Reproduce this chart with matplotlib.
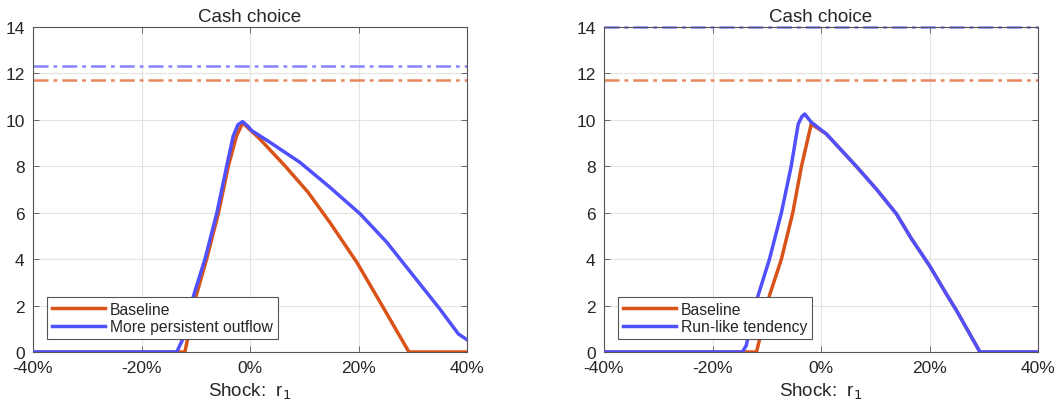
import numpy as np
import matplotlib
matplotlib.use("Agg")
import matplotlib.pyplot as plt
from matplotlib.ticker import FuncFormatter

plt.rcParams["font.family"] = ["Liberation Sans", "DejaVu Sans"]
plt.rcParams["axes.unicode_minus"] = False

# ---------------------------------------------------------------
# data (shock in %, cash choice)

# left panel: baseline
left_base_x = [-40, -12.0, -11.3, -10.1, -8.0, -5.8, -4.0, -2.5, -1.35, 1.8, 6.4, 10.7, 14.7, 19.7, 24.0, 29.3, 40]
left_base_y = [0, 0, 0.8, 2.28, 4.0, 6.0, 8.0, 9.3, 9.87, 9.18, 8.03, 6.88, 5.59, 3.86, 2.14, 0, 0]
# left panel: more persistent outflow
left_alt_x = [-40, -13.5, -12.5, -10.4, -8.3, -6.1, -4.3, -3.1, -2.2, -1.35, -0.5, 0.3, 3.7, 9.2, 14.75, 20.3, 25.2, 30.1, 35.0, 38.4, 40]
left_alt_y = [0, 0, 0.5, 2.43, 4.0, 6.0, 8.0, 9.3, 9.8, 9.92, 9.75, 9.54, 9.03, 8.17, 7.09, 5.95, 4.73, 3.29, 1.85, 0.78, 0.53]

# right panel: baseline (same as left up to the join with the blue curve)
right_base_x = [-40, -11.9, -11.6, -9.5, -7.3, -5.2, -3.6, -1.8, 1.0, 6.5, 10.2, 13.9, 16.7, 20.0, 23.1, 25.0, 29.3, 40]
right_base_y = [0, 0, 0.27, 2.43, 4.0, 6.0, 8.0, 9.82, 9.39, 8.0, 7.02, 5.95, 4.87, 3.72, 2.5, 1.78, 0, 0]
# right panel: run-like tendency
right_alt_x = [-40, -14.5, -13.8, -11.6, -9.5, -7.3, -5.5, -4.2, -3.5, -3.0, -1.8, 1.0, 6.5, 10.2, 13.9, 16.7, 20.0, 23.1, 25.0, 29.3, 40]
right_alt_y = [0, 0, 0.27, 2.43, 4.0, 6.0, 8.0, 9.82, 10.15, 10.25, 9.9, 9.39, 8.0, 7.02, 5.95, 4.87, 3.72, 2.5, 1.78, 0, 0]

# horizontal reference levels
left_levels = {"base": 11.7, "alt": 12.3}
right_levels = {"base": 11.7, "alt": 14.0}

panels = [
    (left_base_x, left_base_y, left_alt_x, left_alt_y, left_levels, "More persistent outflow"),
    (right_base_x, right_base_y, right_alt_x, right_alt_y, right_levels, "Run-like tendency"),
]

xticks = [-40, -20, 0, 20, 40]
yticks = [0, 2, 4, 6, 8, 10, 12, 14]

c_base = "#D95319"
c_alt = "#5050FF"
c_base_light = "#E8875E"
c_alt_light = "#8585FF"
txt = "#262626"

fig = plt.figure(figsize=(10.61, 4.02), dpi=100)
axes_pos = [[33 / 1061, 49 / 402, 434 / 1061, 325 / 402],
            [604 / 1061, 49 / 402, 434 / 1061, 325 / 402]]

for pos, (bx, by, ax_x, ax_y, lev, alt_label) in zip(axes_pos, panels):
    ax = fig.add_axes(pos)
    ax.axhline(lev["alt"], color=c_alt_light, lw=1.8, ls=(0, (6, 2, 1.5, 2)), clip_on=False, zorder=2)
    ax.axhline(lev["base"], color=c_base_light, lw=1.8, ls=(0, (6, 2, 1.5, 2)), clip_on=False, zorder=2)
    ax.plot(bx, by, color=c_base, lw=2.5, label="Baseline", zorder=3)
    ax.plot(ax_x, ax_y, color=c_alt, lw=2.5, label=alt_label, zorder=4)

    ax.set_xlim(-40, 40)
    ax.set_ylim(0, 14)
    ax.set_xticks(xticks)
    ax.set_yticks(yticks)
    ax.xaxis.set_major_formatter(FuncFormatter(lambda v, p: f"{v:.0f}%"))
    ax.grid(True, color="#E3E3E3", lw=0.8)
    ax.set_axisbelow(True)
    ax.tick_params(direction="in", top=True, right=True, length=4, width=0.6,
                   colors="#555555", labelcolor=txt, labelsize=12.5)
    ax.tick_params(axis="x", pad=6)
    ax.tick_params(axis="y", pad=6)
    for s in ax.spines.values():
        s.set_color("#555555")
        s.set_linewidth(0.8)

    ax.set_title("Cash choice", fontsize=13.5, color=txt, pad=4)
    ax.set_xlabel("Shock:  r$_1$", fontsize=13.5, color=txt, labelpad=4)

    leg = ax.legend(loc="lower left", bbox_to_anchor=(0.033, 0.04), fontsize=11.3,
                    handlelength=3.4, handletextpad=0.3, borderpad=0.3,
                    labelspacing=0.15, fancybox=False, framealpha=1, borderaxespad=0)
    leg.get_frame().set_edgecolor("#555555")
    leg.get_frame().set_linewidth(0.8)
    for t in leg.get_texts():
        t.set_color(txt)

fig.savefig("out.png", dpi=100)
